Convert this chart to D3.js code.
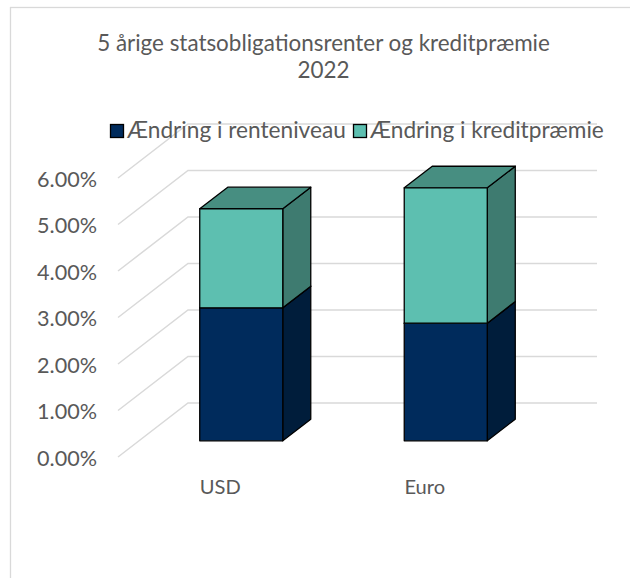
<!DOCTYPE html>
<html>
<head>
<meta charset="utf-8">
<script src="https://cdn.jsdelivr.net/npm/d3@7"></script>
<style>
  html, body { margin: 0; padding: 0; background: #fff; }
  svg { display: block; }
</style>
</head>
<body>
<svg id="chart" width="630" height="578"></svg>
<script>
// ---- data ----
const categories = ["USD", "Euro"];
const seriesNames = ["Ændring i renteniveau", "Ændring i kreditpræmie"];
const renteniveau = [0.0286, 0.0253];
const kreditpraemie = [0.0213, 0.0291];
const yTicks = [0, 0.01, 0.02, 0.03, 0.04, 0.05, 0.06];
const titleLines = ["5 årige statsobligationsrenter og kreditpræmie", "2022"];

// ---- layout ----
const FONT = "Lato, 'Open Sans', sans-serif";
const svg = d3.select("#chart");
const frontLeft = 118, frontRight = 527, base = 457, DX = 70, DY = 54;
const d0 = 0.3, d1 = 0.7;

const h = d3.scaleLinear().domain([0, 0.06]).range([0, 279]);
const x = d3.scaleBand().domain(categories).range([frontLeft, frontRight])
  .paddingInner(0.594).paddingOuter(0.297);
const P = (xf, v, d) => [xf + d * DX, base - h(v) - d * DY];

function fitSize(text, target) {
  const t = svg.append("text").attr("font-family", FONT).attr("font-size", 100).text(text);
  const w = t.node().getComputedTextLength();
  t.remove();
  return 100 * target / w;
}

// border
svg.append("rect").attr("x", 10.5).attr("y", 7.5).attr("width", 700).attr("height", 700)
  .attr("fill", "#fff").attr("stroke", "#d9d9d9").attr("stroke-width", 1.3);

// gridlines (side wall diagonals + back wall horizontals)
const grid = svg.append("g").attr("stroke", "#d9d9d9").attr("stroke-width", 1.5).attr("fill", "none");
yTicks.forEach(t => {
  const a = P(frontLeft, t, 0), b = P(frontLeft, t, 1), c = P(frontRight, t, 1);
  grid.append("path").attr("d", d3.line()([a, b, c]));
});

// tick labels
const tickSize = fitSize("6.00%", 60);
const fmt = d3.format(".2%");
svg.append("g").selectAll("text").data(yTicks).join("text")
  .attr("x", 97).attr("y", d => P(frontLeft, d, 0)[1] + 8.5)
  .attr("text-anchor", "end").attr("font-family", FONT).attr("font-size", tickSize)
  .attr("fill", "#595959").text(d => fmt(d));

// bars
const rows = categories.map((c, i) => ({ cat: c, a: renteniveau[i], b: kreditpraemie[i] }));
const stack = d3.stack().keys(["a", "b"])(rows);
const faceColors = [
  { front: "#002B5C", side: "#001D3B", top: "#00234A" },
  { front: "#5DBFB0", side: "#3E7B70", top: "#478E81" }
];
const barsG = svg.append("g").attr("stroke", "#000").attr("stroke-width", 1.3).attr("stroke-linejoin", "round");
categories.forEach((c, i) => {
  const xl = x(c), xr = x(c) + x.bandwidth();
  stack.forEach((layer, k) => {
    const [v0, v1] = layer[i];
    const col = faceColors[k];
    const poly = pts => "M" + pts.map(p => p.join(",")).join("L") + "Z";
    barsG.append("path").attr("fill", col.side)
      .attr("d", poly([P(xr, v0, d0), P(xr, v0, d1), P(xr, v1, d1), P(xr, v1, d0)]));
    barsG.append("path").attr("fill", col.top)
      .attr("d", poly([P(xl, v1, d0), P(xr, v1, d0), P(xr, v1, d1), P(xl, v1, d1)]));
    barsG.append("path").attr("fill", col.front)
      .attr("d", poly([P(xl, v0, d0), P(xr, v0, d0), P(xr, v1, d0), P(xl, v1, d0)]));
  });
});

// category labels
const catSize = fitSize("USD", 41);
svg.append("g").selectAll("text").data(categories).join("text")
  .attr("x", d => x(d) + x.bandwidth() / 2).attr("y", 494)
  .attr("text-anchor", "middle").attr("font-family", FONT).attr("font-size", catSize)
  .attr("fill", "#595959").text(d => d);

// title
const titleSize = fitSize(titleLines[0], 453);
svg.append("g").selectAll("text").data(titleLines).join("text")
  .attr("x", 323.5).attr("y", (d, i) => 51 + i * 27)
  .attr("text-anchor", "middle").attr("font-family", FONT).attr("font-size", titleSize)
  .attr("fill", "#595959").text(d => d);

// legend
const legSize = fitSize(seriesNames[1], 234);
const legX = [110, 353];
const leg = svg.append("g");
seriesNames.forEach((n, i) => {
  leg.append("rect").attr("x", legX[i] + 0.5).attr("y", 124.5).attr("width", 13).attr("height", 13)
    .attr("fill", faceColors[i].front).attr("stroke", "#000").attr("stroke-width", 1.3);
  leg.append("text").attr("x", legX[i] + 17).attr("y", 137.5)
    .attr("font-family", FONT).attr("font-size", legSize).attr("fill", "#595959").text(n);
});
</script>
</body>
</html>
